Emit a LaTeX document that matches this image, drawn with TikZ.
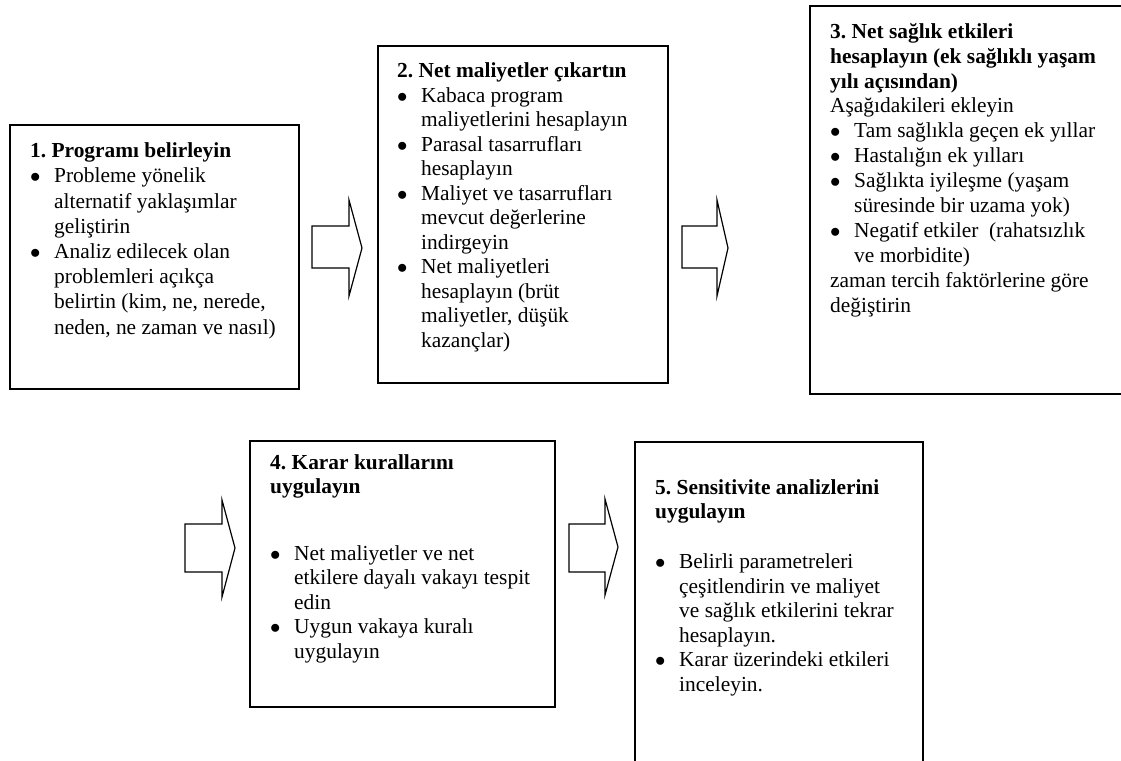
\documentclass[tikz,border=0pt]{standalone}
\usepackage{fontspec}
\setmainfont{Liberation Serif}
\frenchspacing
% bullet item start and continuation indent
\newcommand{\bul}{\makebox[24pt][l]{\hspace{0pt}$\bullet$}}
\newcommand{\cnt}{\hspace*{24pt}}
\begin{document}
\begin{tikzpicture}[x=1pt,y=-1pt,
  stepframe/.style={draw=black, line width=1.6pt, anchor=north west, inner sep=0pt},
  blockarrow/.style={draw=black, line width=1.2pt, line join=miter, fill=white},
  steptext/.style={anchor=north west, inner sep=0pt, align=left,
    font=\fontsize{21.4}{#1}\selectfont},
  steptext/.default=24.5]
\useasboundingbox (0,0) rectangle (1121,760);

% frames of the five steps
\node[stepframe, minimum width=289pt, minimum height=264pt] (b1) at (9,124) {};
\node[stepframe, minimum width=290pt, minimum height=337pt] (b2) at (377,45) {};
\node[stepframe, minimum width=330pt, minimum height=388pt] (b3) at (809,5) {};
\node[stepframe, minimum width=305pt, minimum height=266pt] (b4) at (249,440) {};
\node[stepframe, minimum width=288pt, minimum height=335pt] (b5) at (634,441) {};

% step texts
\node[steptext=25.2] (t1) at (30,139.9) {\strut\textbf{1. Programı belirleyin}\\
\bul Probleme yönelik\\
\cnt alternatif yaklaşımlar\\
\cnt geliştirin\\
\bul Analiz edilecek olan\\
\cnt problemleri açıkça\\
\cnt belirtin (kim, ne, nerede,\\
\cnt neden, ne zaman ve nasıl)};

\node[steptext] (t2) at (397,60.4) {\strut\textbf{2. Net maliyetler çıkartın}\\
\bul Kabaca program\\
\cnt maliyetlerini hesaplayın\\
\bul Parasal tasarrufları\\
\cnt hesaplayın\\
\bul Maliyet ve tasarrufları\\
\cnt mevcut değerlerine\\
\cnt indirgeyin\\
\bul Net maliyetleri\\
\cnt hesaplayın (brüt\\
\cnt maliyetler, düşük\\
\cnt kazançlar)};

\node[steptext=24.9] (t3) at (830,20.6) {\strut\textbf{3. Net sağlık etkileri}\\
\textbf{hesaplayın (ek sağlıklı yaşam}\\
\textbf{yılı açısından)}\\
Aşağıdakileri ekleyin\\
\bul Tam sağlıkla geçen ek yıllar\\
\bul Hastalığın ek yılları\\
\bul Sağlıkta iyileşme (yaşam\\
\cnt süresinde bir uzama yok)\\
\bul Negatif etkiler\ \ (rahatsızlık\\
\cnt ve morbidite)\\
zaman tercih faktörlerine göre\\
değiştirin};

\node[steptext] (t4) at (270,451.9) {\strut\textbf{4. Karar kurallarını}\\
\textbf{uygulayın}\\[42pt]
\bul Net maliyetler ve net\\
\cnt etkilere dayalı vakayı tespit\\
\cnt edin\\
\bul Uygun vakaya kuralı\\
\cnt uygulayın};

\node[steptext] (t5) at (655,476.9) {\strut\textbf{5. Sensitivite analizlerini}\\
\textbf{uygulayın}\\[25.6pt]
\bul Belirli parametreleri\\
\cnt çeşitlendirin ve maliyet\\
\cnt ve sağlık etkilerini tekrar\\
\cnt hesaplayın.\\
\bul Karar üzerindeki etkileri\\
\cnt inceleyin.};

% block arrows between the steps
\draw[blockarrow] (312,226) -- (349,226) -- (349,200) -- (362,248) -- (349,296) -- (349,268) -- (312,268) -- cycle;
\draw[blockarrow] (682,226) -- (717,226) -- (717,200) -- (728,248) -- (717,296) -- (717,268) -- (682,268) -- cycle;
\draw[blockarrow] (185,524) -- (222,524) -- (222,500) -- (235,548) -- (222,597) -- (222,572) -- (185,572) -- cycle;
\draw[blockarrow] (569,524) -- (605,524) -- (605,499) -- (618,547) -- (605,595) -- (605,572) -- (569,572) -- cycle;
\end{tikzpicture}
\end{document}
